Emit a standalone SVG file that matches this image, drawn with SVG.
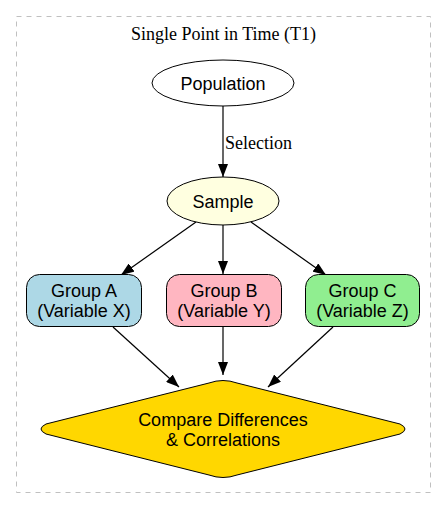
<svg xmlns="http://www.w3.org/2000/svg" width="447" height="509" viewBox="0 0 447 509">
<style>
.n{font-family:"Liberation Sans",Arial,sans-serif;font-size:18px;text-anchor:middle;fill:#000}
.s{font-family:"Liberation Serif","Times New Roman",serif;font-size:18px;fill:#000}
.e{stroke:#000;stroke-width:1.2;fill:none}
.b{stroke:#000;stroke-width:1}
</style>
<defs>
<marker id="ah" markerWidth="13" markerHeight="10" refX="13" refY="5" orient="auto" markerUnits="userSpaceOnUse">
<path d="M0,0 L13,5 L0,10 Z" fill="#000"/>
</marker>
</defs>
<rect width="447" height="509" fill="#fff"/>
<g id="cluster">
<rect x="16.5" y="16.5" width="414" height="476" fill="none" stroke="#c0c0c0" stroke-dasharray="5,5"/>
<text class="s" x="223.5" y="40" text-anchor="middle">Single Point in Time (T1)</text>
</g>
<g id="edges">
<line class="e" x1="223" y1="106" x2="223" y2="177" marker-end="url(#ah)"/>
<text class="s" x="225" y="149">Selection</text>
<line class="e" x1="196" y1="222" x2="121" y2="275" marker-end="url(#ah)"/>
<line class="e" x1="223" y1="225" x2="223" y2="274" marker-end="url(#ah)"/>
<line class="e" x1="251" y1="222" x2="326" y2="275" marker-end="url(#ah)"/>
<line class="e" x1="113" y1="327" x2="179" y2="387" marker-end="url(#ah)"/>
<line class="e" x1="223" y1="327" x2="223" y2="375" marker-end="url(#ah)"/>
<line class="e" x1="333" y1="327" x2="268" y2="387" marker-end="url(#ah)"/>
</g>
<g id="population">
<ellipse class="b" cx="223" cy="83" rx="71" ry="23" fill="#fff"/>
<text class="n" x="223" y="89.5">Population</text>
</g>
<g id="sample">
<ellipse class="b" cx="223" cy="201" rx="56" ry="24" fill="#ffffe0"/>
<text class="n" x="223" y="207.5">Sample</text>
</g>
<g id="groupA">
<rect class="b" x="26.5" y="274.5" width="115" height="52" rx="13" fill="#add8e6"/>
<text class="n" x="84" y="297">Group A</text>
<text class="n" x="84" y="317">(Variable X)</text>
</g>
<g id="groupB">
<rect class="b" x="166.5" y="274.5" width="115" height="52" rx="13" fill="#ffb6c1"/>
<text class="n" x="224" y="297">Group B</text>
<text class="n" x="224" y="317">(Variable Y)</text>
</g>
<g id="groupC">
<rect class="b" x="305.5" y="274.5" width="114" height="52" rx="13" fill="#90ee90"/>
<text class="n" x="362.5" y="297">Group C</text>
<text class="n" x="362.5" y="317">(Variable Z)</text>
</g>
<g id="compare">
<path class="b" fill="#ffd700" d="M209,383 Q223,378 237,383 L400,424 Q410,429 400,434 L237,475 Q223,480 209,475 L46,434 Q36,429 46,424 Z"/>
<text class="n" x="223" y="426">Compare Differences</text>
<text class="n" x="223" y="446">&amp; Correlations</text>
</g>
</svg>
